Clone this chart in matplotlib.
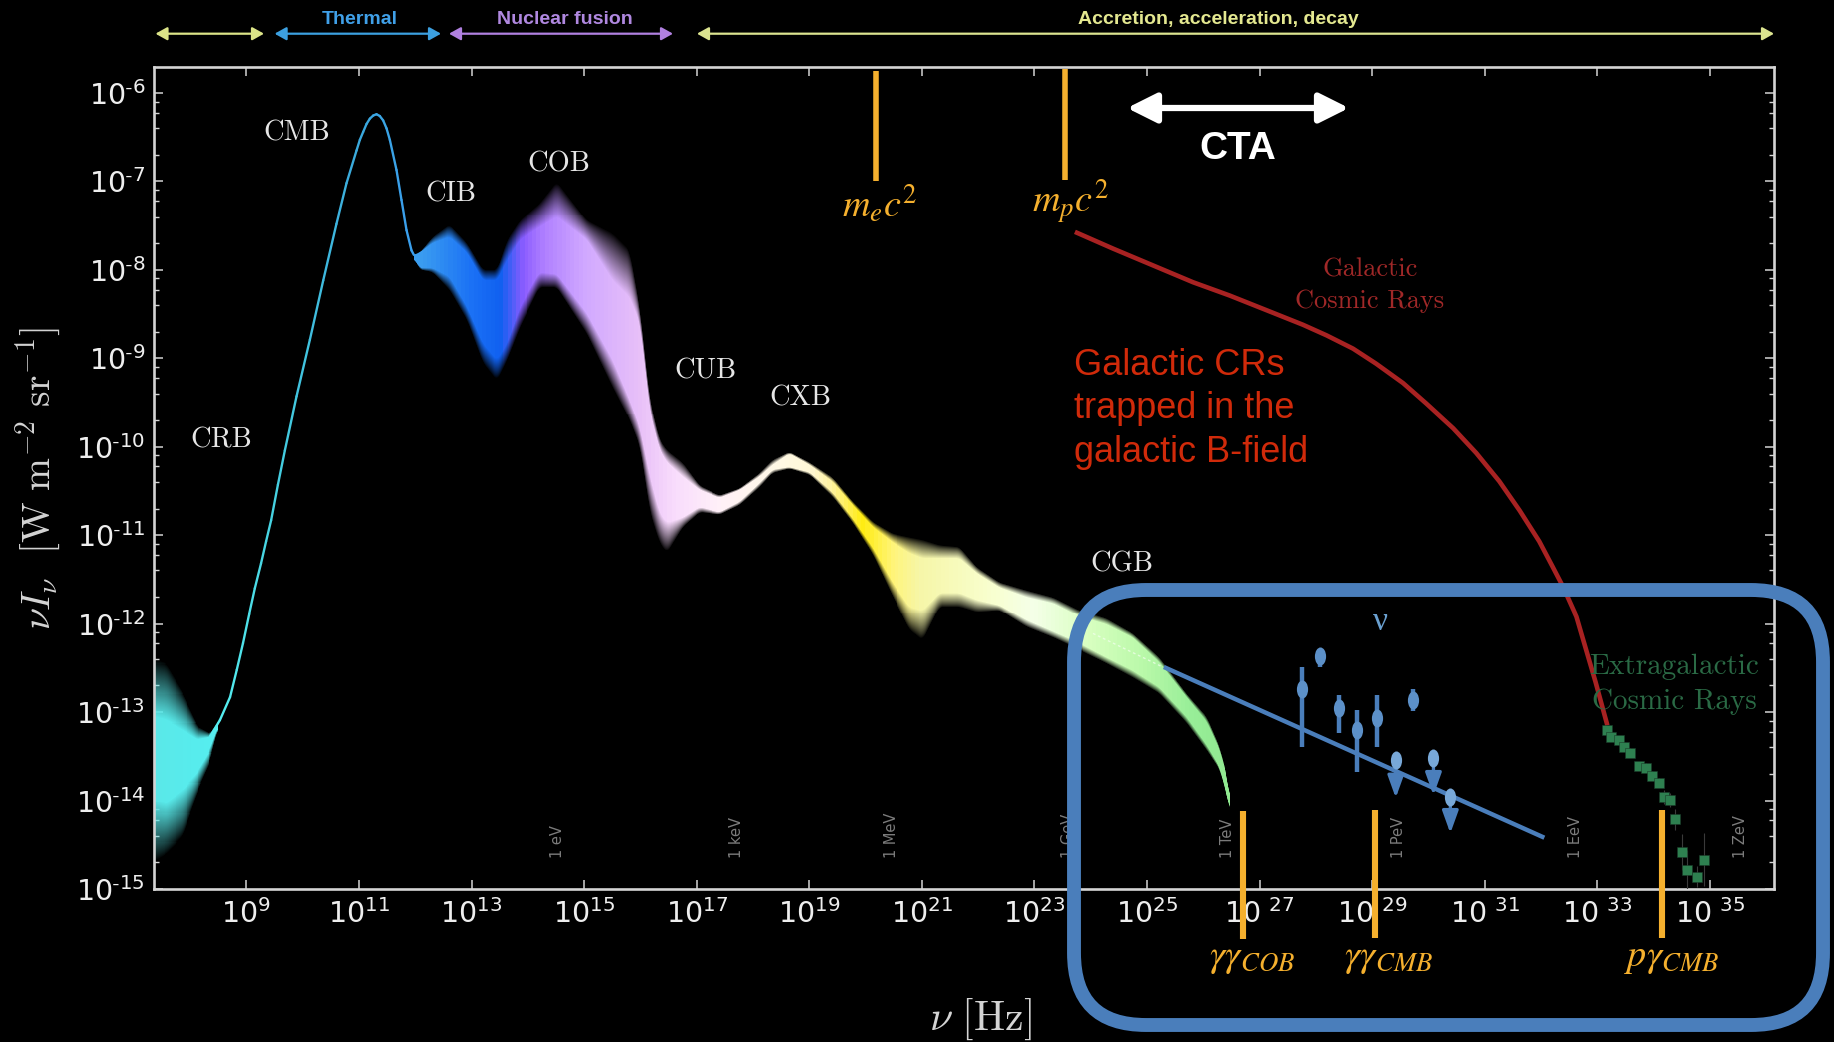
import matplotlib
matplotlib.use('Agg')
import matplotlib.pyplot as plt
import numpy as np
from matplotlib.collections import LineCollection
from matplotlib.colors import LinearSegmentedColormap
from matplotlib.markers import MarkerStyle
from matplotlib.patches import FancyBboxPatch
from matplotlib.ticker import LogLocator, NullFormatter, NullLocator
from matplotlib.transforms import Affine2D

# all values are log10(nu / Hz) and log10(nu I_nu)
crb_nu = [7.35, 7.59, 7.87, 8.12, 8.35, 8.49]
crb_out_hi = [-12.40, -12.45, -12.78, -13.15, -13.24, -13.10]
crb_hi = [-13.05, -13.09, -13.20, -13.31, -13.28, -13.12]
crb_lo = [-13.99, -14.03, -13.88, -13.69, -13.42, -13.16]
crb_out_lo = [-14.70, -14.60, -14.40, -13.92, -13.56, -13.18]

cmb_nu = [8.35, 8.53, 8.71, 8.83, 8.94, 9.05, 9.15, 9.26, 9.35, 9.44, 9.56, 9.684, 9.891, 10.128, 10.365,
          10.60, 10.779, 10.957, 11.016, 11.075, 11.135, 11.194, 11.253, 11.312, 11.37, 11.43, 11.49,
          11.549, 11.667, 11.756, 11.845, 11.934, 11.975]
cmb_i = [-13.28, -13.09, -12.83, -12.52, -12.22, -11.89, -11.60, -11.32, -11.07, -10.83, -10.43, -10.04,
         -9.43, -8.79, -8.12, -7.48, -7.02, -6.65, -6.53, -6.44, -6.35, -6.29, -6.255, -6.24, -6.26, -6.31,
         -6.40, -6.53, -6.87, -7.21, -7.55, -7.78, -7.83]

band_nu = [11.98, 12.08, 12.31, 12.61, 12.92, 13.20, 13.45, 13.63, 13.86, 14.21, 14.52, 15.05, 15.51,
           15.81, 15.99, 16.17, 16.34, 16.47, 16.75, 17.05, 17.41, 17.77, 18.12, 18.35, 18.65,
           19.01, 19.42, 19.77, 20.13, 20.48, 20.78, 21.02, 21.32, 21.67, 21.98, 22.38, 22.86,
           23.33, 23.80, 24.28, 24.75, 25.22, 25.70, 26.06, 26.29, 26.43, 26.47]
band_out_hi = [-7.83, -7.81, -7.63, -7.49, -7.70, -8.00, -8.00, -7.66, -7.44, -7.25, -7.00, -7.44, -7.59,
               -7.78, -8.42, -9.47, -9.92, -10.04, -10.18, -10.44, -10.55, -10.47, -10.30, -10.15, -10.06,
               -10.18, -10.35, -10.62, -10.85, -10.98, -11.02, -11.05, -11.11, -11.13, -11.36, -11.53, -11.62,
               -11.70, -11.85, -11.94, -12.11, -12.38, -12.79, -13.05, -13.39, -13.73, -14.07]
band_hi = [-7.84, -7.81, -7.70, -7.63, -7.81, -8.12, -8.12, -7.89, -7.66, -7.52, -7.40, -7.66, -8.12,
           -8.31, -8.60, -9.62, -10.04, -10.18, -10.34, -10.49, -10.58, -10.49, -10.34, -10.21, -10.08,
           -10.21, -10.40, -10.66, -10.91, -11.08, -11.20, -11.26, -11.26, -11.26, -11.43, -11.59, -11.70,
           -11.77, -11.92, -12.01, -12.16, -12.44, -12.83, -13.11, -13.43, -13.77, -14.08]
band_lo = [-7.86, -7.98, -7.98, -8.08, -8.42, -8.83, -9.02, -8.83, -8.42, -8.03, -8.05, -8.49, -9.02,
           -9.47, -9.78, -10.34, -10.75, -10.86, -10.80, -10.68, -10.74, -10.62, -10.41, -10.26, -10.23,
           -10.29, -10.52, -10.81, -11.14, -11.53, -11.81, -11.85, -11.65, -11.65, -11.73, -11.79, -11.96,
           -12.09, -12.22, -12.38, -12.53, -12.72, -13.05, -13.37, -13.62, -13.96, -14.14]
band_out_lo = [-7.87, -8.00, -8.03, -8.23, -8.57, -9.05, -9.25, -9.02, -8.65, -8.20, -8.20, -8.72, -9.33,
               -9.70, -10.00, -10.75, -11.09, -11.20, -10.91, -10.74, -10.77, -10.66, -10.46, -10.30, -10.25,
               -10.32, -10.57, -10.86, -11.22, -11.69, -12.07, -12.19, -11.81, -11.81, -11.87, -11.85, -12.04,
               -12.16, -12.30, -12.45, -12.61, -12.79, -13.12, -13.43, -13.65, -13.99, -14.16]

gcr_nu = [23.72, 24.40, 25.11, 25.82, 26.47, 27.18, 27.77, 28.19, 28.66, 29.07, 29.55, 29.96, 30.44, 30.85,
          31.26, 31.62, 31.97, 32.21, 32.39, 32.63, 32.74, 32.97, 33.18]
gcr_i = [-7.57, -7.76, -7.95, -8.14, -8.29, -8.47, -8.62, -8.74, -8.89, -9.06, -9.28, -9.51, -9.79, -10.07,
         -10.39, -10.72, -11.07, -11.36, -11.58, -11.92, -12.16, -12.66, -13.15]

egcr_nu = [33.18, 33.25, 33.38, 33.48, 33.59, 33.75, 33.86, 33.98, 34.09, 34.18, 34.30, 34.39,
           34.50, 34.59, 34.89, 34.78]
egcr_i = [-13.20, -13.28, -13.32, -13.40, -13.46, -13.61, -13.63, -13.72, -13.80, -13.96, -13.99, -14.21,
          -14.58, -14.78, -14.67, -14.86]
egcr_err = [0.03, 0.03, 0.03, 0.03, 0.05, 0.05, 0.05, 0.05, 0.05, 0.08, 0.08, 0.12,
            0.20, 0.22, 0.30, 0.12]

nu_points_nu = [27.75, 28.08, 28.42, 28.74, 29.08, 29.72]
nu_points_i = [-12.74, -12.36, -12.95, -13.20, -13.07, -12.86]
nu_points_hi = [-12.49, -12.30, -12.81, -12.98, -12.81, -12.74]
nu_points_lo = [-13.40, -12.49, -13.24, -13.68, -13.40, -12.99]
nu_limits_nu = [29.42, 30.09, 30.39]
nu_limits_i = [-13.54, -13.52, -13.96]
nu_limits_tip = [-13.97, -13.94, -14.37]
nu_fit_nu = [25.30, 32.06]
nu_fit_i = [-12.49, -14.42]
cgb_dash_nu = [24.04, 25.28]
cgb_dash_i = [-12.11, -12.49]

mass_nu = [20.18, 23.54]
mass_top = [-5.755, -5.73]
mass_bot = [-7.0, -6.98]
cut_nu = [26.71, 29.05, 34.15]
cut_top = [-14.12, -14.11, -14.11]
cut_bot = [-15.56, -15.55, -15.55]

energy_labels = ['1 eV', '1 keV', '1 MeV', '1 GeV', '1 TeV', '1 PeV', '1 EeV', '1 ZeV']
energy_nu = [14.52, 17.71, 20.47, 23.60, 26.43, 29.47, 32.61, 35.55]

x_decades = list(range(9, 36, 2))
y_decades = list(range(-15, -5))

# colour along the frequency axis
ramp_pos = [7.35, 8.5, 9.5, 11.0, 12.1, 13.0, 13.5, 13.9, 14.3, 15.0, 16.0, 16.6, 17.4, 18.3, 19.0,
            19.4, 19.95, 20.5, 21.0, 22.3, 23.0, 24.0, 25.0, 25.8, 26.5]
ramp_col = ['#5ae8e8', '#55eef0', '#45d0e0', '#3aa8dc', '#3a9cf0', '#1a70f5', '#1060f0', '#8a5cff',
            '#b080ff', '#d0a8ff', '#e8c0f8', '#f8dcfc', '#fff0f8', '#fff8e8', '#fff8d8', '#fff2a0',
            '#ffec10', '#fff47a', '#f6f6a8', '#f8ffd0', '#f4ffe8', '#d8ffc0', '#b8f8a8', '#98ee98', '#90e890']
ramp_lo, ramp_hi = ramp_pos[0], ramp_pos[-1]
sed_cmap = LinearSegmentedColormap.from_list(
    'sed', [((p - ramp_lo) / (ramp_hi - ramp_lo), c) for p, c in zip(ramp_pos, ramp_col)])


def ramp(values):
    return (np.asarray(values) - ramp_lo) / (ramp_hi - ramp_lo)


def soft_edge(xc, nu, values, width):
    # boundary of the band on the raster columns, rounded a little
    a = np.interp(xc, nu, values)
    pad = np.r_[np.full(width, a[0]), a, np.full(width, a[-1])]
    return np.convolve(pad, np.ones(width) / width, mode='same')[width:-width]


def soft_band(ax, nu, out_hi, hi, lo, out_lo, ncol, nrow, smooth):
    # the band fades from its core to its outer limits, coloured along nu
    xe = np.linspace(nu[0], nu[-1], ncol + 1)
    xc = (xe[:-1] + xe[1:]) / 2
    ye = np.linspace(min(out_lo) - 0.02, max(out_hi) + 0.02, nrow + 1)
    yc = (ye[:-1] + ye[1:]) / 2
    top_o, top, bot, bot_o = [soft_edge(xc, nu, a, smooth)[None, :] for a in (out_hi, hi, lo, out_lo)]
    yy = yc[:, None]
    t = np.maximum((yy - top) / np.maximum(top_o - top, 0.01), (bot - yy) / np.maximum(bot - bot_o, 0.01))
    rgba = np.repeat(sed_cmap(ramp(xc))[None, :, :], nrow, axis=0)
    rgba[..., 3] = np.clip(1 - t, 0, 1) ** 0.85
    ax.pcolormesh(10 ** xe, 10 ** ye, rgba, shading='flat', antialiased=False, linewidth=0, zorder=2)


plt.rcParams['mathtext.fontset'] = 'cm'
grey = '#d4d4d4'
orange = '#f5b02e'
blue = '#4a7ebb'

fig = plt.figure(figsize=(18.34, 10.42), dpi=100, facecolor='black')
ax = fig.add_axes([153.5 / 1834, 1 - 889 / 1042, 1620.5 / 1834, 822 / 1042], facecolor='black')
ax.set_xscale('log')
ax.set_yscale('log')
ax.set_xlim(10 ** 7.35, 10 ** 36.14)
ax.set_ylim(1e-15, 10 ** -5.706)

soft_band(ax, crb_nu, crb_out_hi, crb_hi, crb_lo, crb_out_lo, 70, 200, 5)
soft_band(ax, band_nu, band_out_hi, band_hi, band_lo, band_out_lo, 820, 640, 7)

pts = np.column_stack([10 ** np.array(cmb_nu), 10 ** np.array(cmb_i)])
segs = np.stack([pts[:-1], pts[1:]], axis=1)
mids = (np.array(cmb_nu[:-1]) + np.array(cmb_nu[1:])) / 2
ax.add_collection(LineCollection(segs, colors=sed_cmap(ramp(mids)), linewidths=1.7, zorder=3,
                                 capstyle='round'))

ax.plot(10 ** np.array(gcr_nu), 10 ** np.array(gcr_i), color='#a82222', lw=3.3, zorder=3,
        solid_capstyle='butt')
ax.errorbar(10 ** np.array(egcr_nu), 10 ** np.array(egcr_i),
            yerr=[10 ** np.array(egcr_i) * (1 - 10 ** -np.array(egcr_err)),
                  10 ** np.array(egcr_i) * (10 ** np.array(egcr_err) - 1)],
            fmt='s', color='#2e8050', ecolor='#3a3a3a', elinewidth=0.8, ms=7.5, mec='#1a3a28', mew=0.4,
            zorder=4)

ax.plot(10 ** np.array(nu_fit_nu), 10 ** np.array(nu_fit_i), color=blue, lw=3.2, zorder=5,
        solid_capstyle='butt')
ax.plot(10 ** np.array(cgb_dash_nu), 10 ** np.array(cgb_dash_i), color='#f4fff0', lw=1, ls=(0, (2, 2)),
        alpha=0.7, zorder=4)

oval = MarkerStyle('o', transform=Affine2D().scale(0.62, 1.0))
ax.errorbar(10 ** np.array(nu_points_nu), 10 ** np.array(nu_points_i),
            yerr=[10 ** np.array(nu_points_i) - 10 ** np.array(nu_points_lo),
                  10 ** np.array(nu_points_hi) - 10 ** np.array(nu_points_i)],
            fmt='none', ecolor=blue, elinewidth=3.2, zorder=6)
ax.plot(10 ** np.array(nu_points_nu), 10 ** np.array(nu_points_i), ls='none', marker=oval, ms=13,
        color='#5c90c8', mew=0, zorder=7)
for x, y, tip in zip(nu_limits_nu, nu_limits_i, nu_limits_tip):
    ax.annotate('', xy=(10 ** x, 10 ** tip), xytext=(10 ** x, 10 ** y), zorder=6,
                arrowprops=dict(arrowstyle='-|>,head_length=0.75,head_width=0.27', color=blue, lw=2.4,
                                mutation_scale=18, shrinkA=0, shrinkB=0))
ax.plot(10 ** np.array(nu_limits_nu), 10 ** np.array(nu_limits_i), ls='none', marker=oval, ms=13,
        color='#78a8d8', mew=0, zorder=7)

for x, top, bot in zip(mass_nu, mass_top, mass_bot):
    ax.plot([10 ** x, 10 ** x], [10 ** top, 10 ** bot], color=orange, lw=4, solid_capstyle='butt', zorder=6)
for x, top, bot in zip(cut_nu, cut_top, cut_bot):
    ax.plot([10 ** x, 10 ** x], [10 ** top, 10 ** bot], color=orange, lw=4.4, solid_capstyle='butt',
            zorder=8, clip_on=False)

for lab, x in zip(energy_labels, energy_nu):
    ax.text(10 ** x, 10 ** -14.65, lab, rotation=90, ha='center', va='bottom', color='#7c7c7c',
            fontsize=10.5, zorder=1)

for side in ax.spines.values():
    side.set_color(grey)
    side.set_linewidth(1.9)
ax.set_xticks([10.0 ** e for e in x_decades])
ax.set_xticklabels([r'$\mathdefault{10^{%d}}$' % e if e < 27 else r'$\mathdefault{10\ ^{%d}}$' % e
                    for e in x_decades])
ax.set_yticks([10.0 ** e for e in y_decades])
ax.set_yticklabels([r'$\mathdefault{10^{\text{-}%d}}$' % -e for e in y_decades])
ax.xaxis.set_minor_locator(NullLocator())
ax.yaxis.set_minor_locator(LogLocator(base=10, subs=[2, 4, 6, 8], numticks=30))
ax.yaxis.set_minor_formatter(NullFormatter())
ax.tick_params(which='major', direction='in', top=True, right=True, length=6.5, width=1.1, color=grey,
               labelcolor='#eeeeee', labelsize=20.5)
ax.tick_params(axis='x', pad=7)
ax.tick_params(axis='y', pad=6)
ax.tick_params(which='minor', direction='in', top=False, right=True, length=3.5, width=1.0, color=grey)

ax.set_xlabel(r'$\nu\ [\mathrm{Hz}]$', color=grey, fontsize=30)
ax.xaxis.set_label_coords(0.51, -0.131)
ax.set_ylabel(r'$\nu I_\nu\ \ [\mathrm{W\ m^{-2}\ sr^{-1}}]$', color=grey, fontsize=28.5)
ax.yaxis.set_label_coords(-0.056, 0.50)

# annotation layer in picture pixels
ov = fig.add_axes([0, 0, 1, 1], zorder=5)
ov.set_xlim(0, 1834)
ov.set_ylim(1042, 0)
ov.axis('off')

ov.add_patch(FancyBboxPatch((1074, 590), 749, 435, boxstyle='round,pad=0,rounding_size=72',
                            fc='none', ec=blue, lw=10, zorder=1))

ranges = [(155.5, 264, '#dce488'), (274.6, 441, '#3ca0e0'), (449, 673, '#b080e0'), (697, 1774, '#dce490')]
for x0, x1, col in ranges:
    ov.annotate('', xy=(x1, 33.7), xytext=(x0, 33.7),
                arrowprops=dict(arrowstyle='<|-|>,head_length=0.5,head_width=0.28', color=col, lw=1.6,
                                mutation_scale=14, shrinkA=0, shrinkB=0))
for x, txt, col in [(360, 'Thermal', '#40a0e8'), (565, 'Nuclear fusion', '#b088e0'),
                    (1218, 'Accretion, acceleration, decay', '#e4e890')]:
    ov.text(x, 20, txt, color=col, ha='center', va='center', fontsize=14, fontweight='bold',
            family='Liberation Sans')

for x, y, txt in [(297, 133, 'CMB'), (451, 194, 'CIB'), (559, 164, 'COB'), (705, 371, 'CUB'),
                  (800, 398, 'CXB'), (221, 440, 'CRB'), (1122, 564, 'CGB')]:
    ov.text(x, y, txt, color='#e6e6e6', ha='center', va='center', fontsize=20.5, family='cmr10')
ov.text(1370, 270, 'Galactic', color='#a02828', ha='center', va='center', fontsize=19, family='cmr10')
ov.text(1370, 301, 'Cosmic Rays', color='#a02828', ha='center', va='center', fontsize=19, family='cmr10')
ov.text(1674, 667, 'Extragalactic', color='#2a6a45', ha='center', va='center', fontsize=21, family='cmr10')
ov.text(1674, 702, 'Cosmic Rays', color='#2a6a45', ha='center', va='center', fontsize=21, family='cmr10')
ov.text(1380, 622, '\u03bd', color='#6aa0d0', ha='center', va='center', fontsize=24, family='Liberation Serif')

ov.text(1074.5, 409, 'Galactic CRs\ntrapped in the\ngalactic B-field', color='#d02a0a', ha='left',
        va='center', fontsize=26, linespacing=1.31, family='Liberation Sans')

ov.annotate('', xy=(1349, 108), xytext=(1127, 108),
            arrowprops=dict(arrowstyle='<|-|>,head_length=0.6,head_width=0.3', color='white', lw=4.5,
                            mutation_scale=30, shrinkA=0, shrinkB=0))
ov.text(1238, 149, 'CTA', color='white', ha='center', va='center', fontsize=28, fontweight='bold',
        family='Liberation Sans')

for x, y, txt in [(880, 204, r'$m_e c^2$'), (1070, 202, r'$m_p c^2$'),
                  (1252, 958, r'$\gamma\gamma_{COB}$'), (1389, 958, r'$\gamma\gamma_{CMB}$'),
                  (1672, 958, r'$p\gamma_{CMB}$')]:
    ov.text(x, y, txt, color=orange, ha='center', va='center', fontsize=27.5, math_fontfamily='stix')

fig.savefig('out.png', dpi=100, facecolor='black')
